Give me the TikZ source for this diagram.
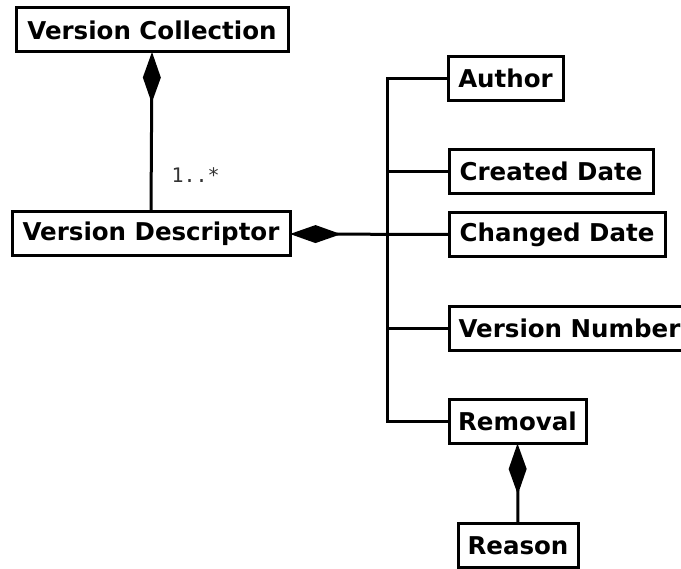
\documentclass[tikz,border=0pt]{standalone}
\usepackage{fontspec}
\setmainfont{DejaVu Sans}
\newfontfamily\monofont{DejaVu Sans Mono}
\usetikzlibrary{arrows.meta}
\begin{document}
\begin{tikzpicture}[x=1pt,y=-1pt,
  cls/.style={draw, line width=3pt, fill=white, inner sep=0pt, outer sep=0pt,
    minimum height=44pt, font=\fontsize{24.5}{28}\selectfont\bfseries},
  link/.style={line width=3pt},
  comp/.style={link, {Diamond[length=51pt,width=18pt]}-},
  mult/.style={font=\monofont\fontsize{20}{24}\selectfont, text=black!80}]
\useasboundingbox (0,0) rectangle (681,569);
\clip (0,0) rectangle (681,569);
% classes
\node[cls, minimum width=272pt] (vc) at (152,30) {Version Collection};
\node[cls, minimum width=278pt] (vd) at (151,234) {Version Descriptor};
\node[cls, minimum width=115pt] (author) at (505.5,78.5) {Author};
\node[cls, minimum width=204pt] (created) at (551,171.5) {Created Date};
\node[cls, minimum width=216pt] (changed) at (557,234.5) {Changed Date};
\node[cls, minimum width=241pt] (vnum) at (569.5,328.5) {Version Number};
\node[cls, minimum width=137pt] (removal) at (517.5,421.5) {Removal};
\node[cls, minimum width=120pt] (reason) at (518,546) {Reason};
% bus line shared by the attribute classes
\coordinate (bus) at (387,0);
% compositions
\draw[comp] (vc.south) -- (vd.north);
\node[mult, anchor=west] (m1) at (168,175) {1..*};
\draw[comp] (vd.east) -- (changed.west);
\draw[comp] (removal.south) -- (reason.north);
% attribute branches
\draw[link] (author.west) -- (author.west -| bus) -- (removal.west -| bus) -- (removal.west);
\draw[link] (created.west) -- (created.west -| bus);
\draw[link] (vnum.west) -- (vnum.west -| bus);
\end{tikzpicture}
\end{document}
